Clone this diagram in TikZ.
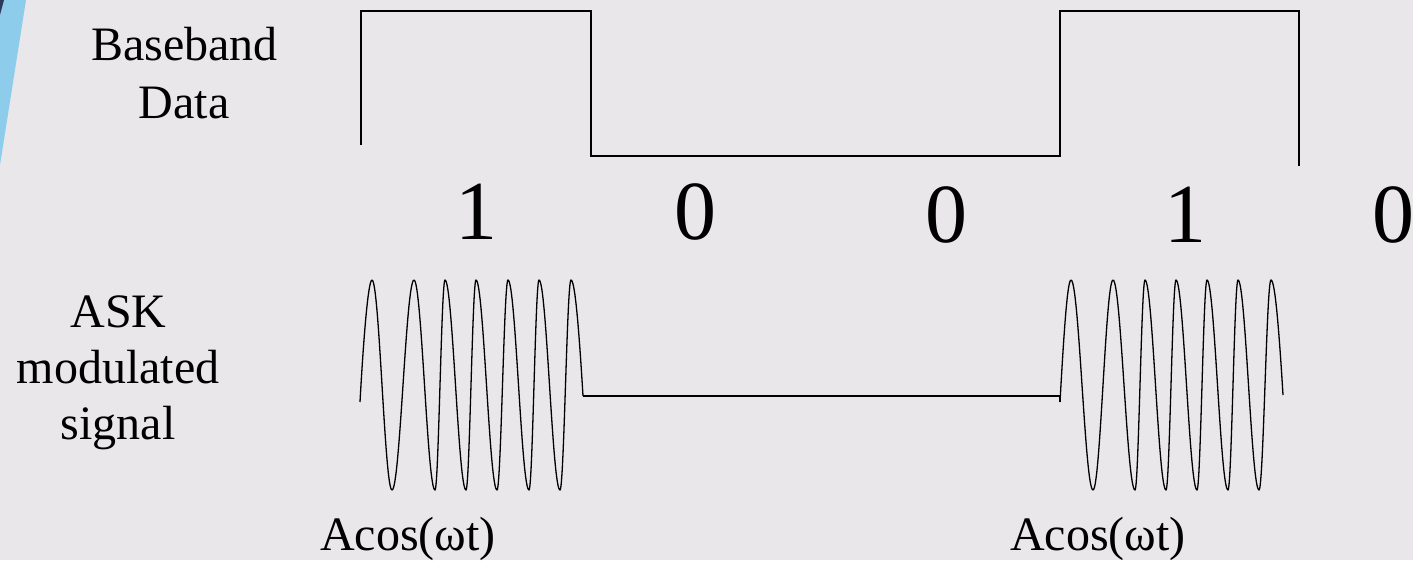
\documentclass[tikz,border=0pt]{standalone}
\usepackage{fontspec}
\setmainfont{Liberation Serif}
\definecolor{bgc}{HTML}{E9E7EA}
\definecolor{stripe}{HTML}{8DCDEB}
\definecolor{navy}{HTML}{2B3A5A}
\begin{document}
\begin{tikzpicture}[x=1pt,y=-1pt,
  lbl/.style={font=\fontsize{48}{58}\selectfont, inner sep=0pt, anchor=base},
  digit/.style={font=\fontsize{84}{90}\selectfont, inner sep=0pt, anchor=base},
  sig/.style={line width=1.6pt, line join=miter},
  wave/.style={line width=1.3pt, line join=round}]
\useasboundingbox (0,0) rectangle (1413,560);
\fill[bgc] (0,0) rectangle (1413,560);
\fill[stripe] (0,0) -- (26,0) -- (0,165) -- cycle;
\fill[navy] (0,0) -- (4,0) -- (0,15) -- cycle;

% baseband
\draw[sig] (361,145) -- (361,11) -- (591,11) -- (591,156) -- (1060,156) -- (1060,11) -- (1299,11) -- (1299,166);

% labels
\node[lbl] (bb1) at (184.5,60) {Baseband};
\node[lbl] (bb2) at (184,118) {Data};
\node[lbl] (ask1) at (118.5,327) {ASK};
\node[lbl] (ask2) at (118,383) {modulated};
\node[lbl] (ask3) at (118,439) {signal};
\node[lbl] (ac1) at (408,550) {Acos(ωt)};
\node[lbl] (ac2) at (1098,550) {Acos(ωt)};

% bits
\node[digit] (d1) at (476,239) {1};
\node[digit] (d2) at (695,239) {0};
\node[digit] (d3) at (946,242) {0};
\node[digit] (d4) at (1185,242) {1};
\node[digit] (d5) at (1393,242) {0};

% ASK waveform, burst 1 + flat line
\draw[wave] (360,402) .. controls (364,330) and (368.5,280) .. (372,280)
 .. controls (379.3,280) and (384.7,490) .. (392,490)
 .. controls (400,490) and (406,280) .. (414,280)
 .. controls (421.6,280) and (427.4,490) .. (435,490)
 .. controls (438.6,490) and (441.4,280) .. (445,280)
 .. controls (452.6,280) and (458.4,490) .. (466,490)
 .. controls (469.6,490) and (472.4,280) .. (476,280)
 .. controls (483.6,280) and (489.4,490) .. (497,490)
 .. controls (501,490) and (504,280) .. (508,280)
 .. controls (515.6,280) and (521.4,490) .. (529,490)
 .. controls (532.6,490) and (535.4,280) .. (539,280)
 .. controls (546.6,280) and (552.4,490) .. (560,490)
 .. controls (564,490) and (567,280) .. (571,280)
 .. controls (575,280) and (579,330) .. (583,396);
\draw[sig] (583,396) -- (1060,396) -- (1060,402);
% burst 2
\draw[wave] (1060,402) .. controls (1064,330) and (1067.5,280) .. (1071,280)
 .. controls (1079,280) and (1085,490) .. (1093,490)
 .. controls (1100.3,490) and (1105.7,280) .. (1113,280)
 .. controls (1121,280) and (1127,490) .. (1135,490)
 .. controls (1138.6,490) and (1141.4,280) .. (1145,280)
 .. controls (1152.6,280) and (1158.4,490) .. (1166,490)
 .. controls (1169.6,490) and (1172.4,280) .. (1176,280)
 .. controls (1183.6,280) and (1189.4,490) .. (1197,490)
 .. controls (1200.6,490) and (1203.4,280) .. (1207,280)
 .. controls (1214.6,280) and (1220.4,490) .. (1228,490)
 .. controls (1231.6,490) and (1234.4,280) .. (1238,280)
 .. controls (1245.6,280) and (1251.4,490) .. (1259,490)
 .. controls (1263.4,490) and (1266.6,280) .. (1271,280)
 .. controls (1275,280) and (1279,330) .. (1283,395);
\end{tikzpicture}
\end{document}
